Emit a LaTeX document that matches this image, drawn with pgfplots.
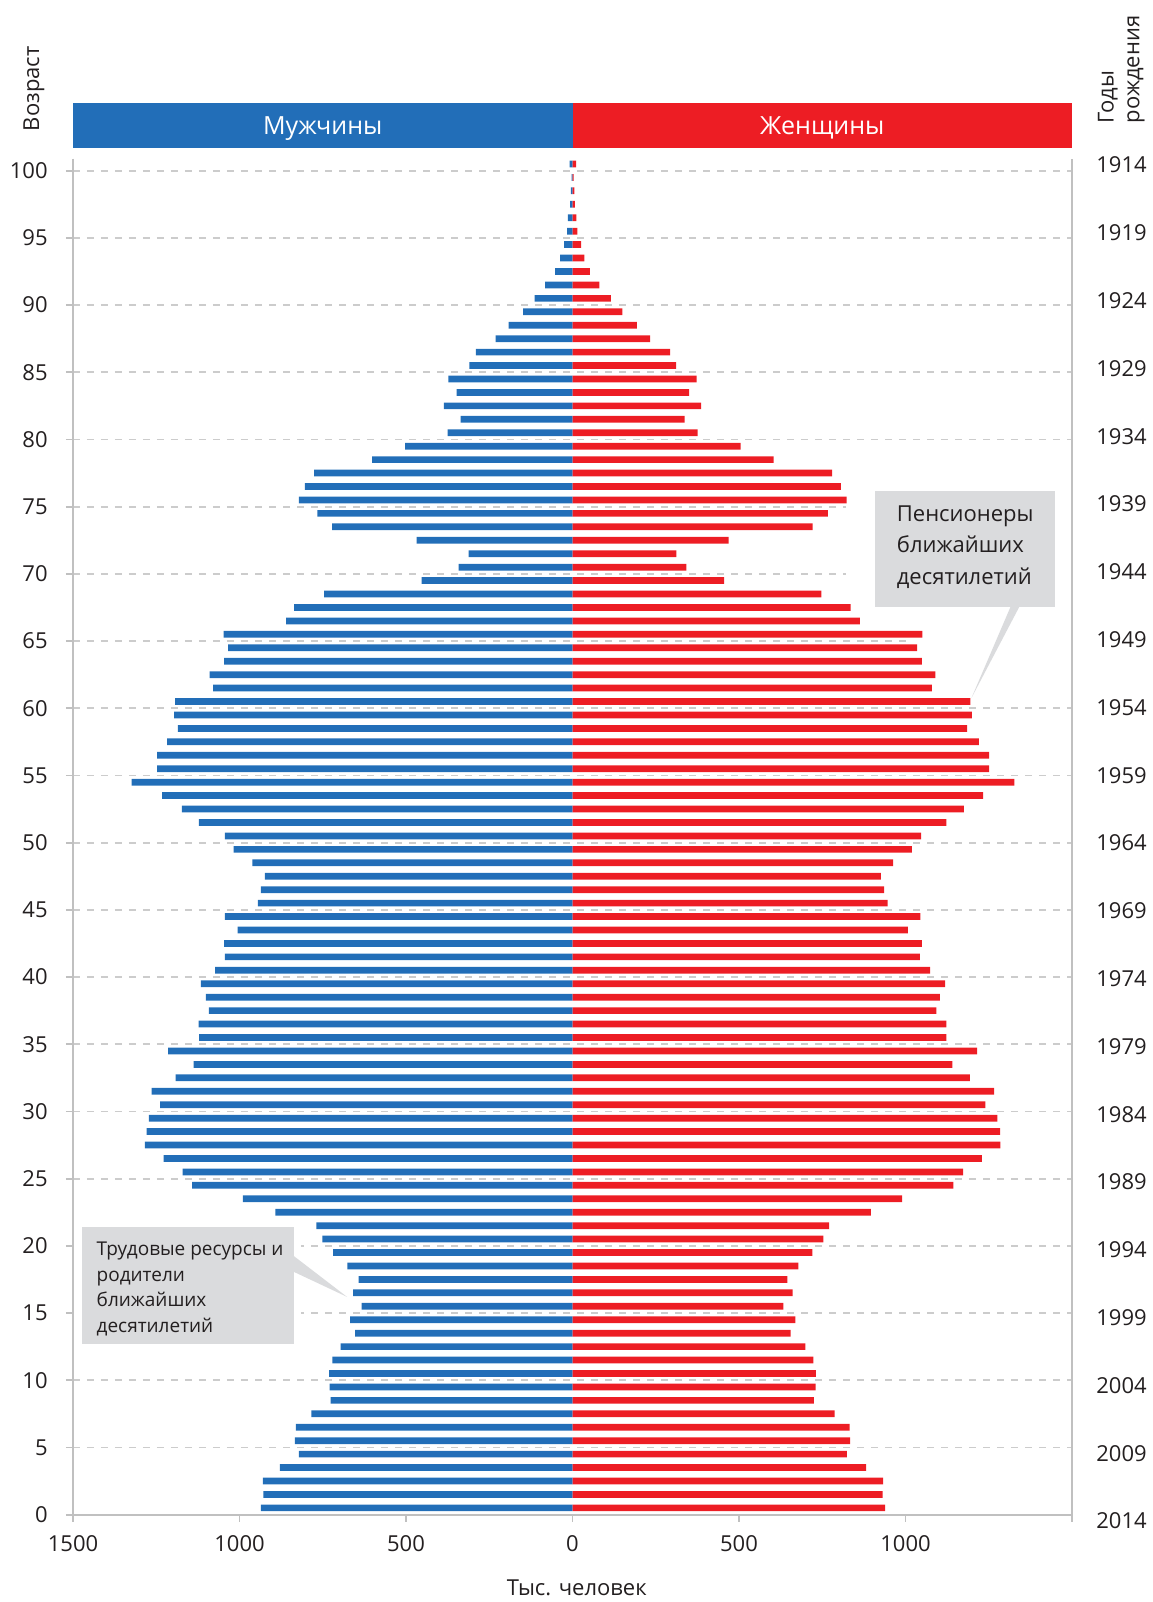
\documentclass[border=0pt]{standalone}
\usepackage{fontspec}
\setmainfont{Open Sans}
\usepackage{pgfplots}
\usepackage{pgfplotstable}
\pgfplotsset{compat=1.18}

\definecolor{mblue}{RGB}{34,110,184}
\definecolor{fred}{RGB}{237,29,36}
\definecolor{axgray}{RGB}{192,192,192}
\definecolor{gridgray}{RGB}{204,204,204}
\definecolor{boxgray}{RGB}{218,219,221}
\definecolor{txt}{RGB}{35,31,32}

% age, men, women (thousands)
\pgfplotstableread{
age m f
0 936 939
1 928 931
2 930 933
3 879 882
4 822 824
5 834 834
6 831 832
7 784 787
8 726 725
9 729 730
10 731 731
11 721 723
12 696 699
13 653 655
14 668 669
15 633 633
16 659 661
17 642 645
18 676 678
19 719 720
20 751 753
21 769 771
22 892 896
23 990 990
24 1142 1144
25 1171 1173
26 1228 1229
27 1284 1285
28 1279 1284
29 1272 1276
30 1238 1240
31 1264 1266
32 1192 1193
33 1138 1141
34 1214 1215
35 1121 1123
36 1123 1123
37 1092 1093
38 1101 1103
39 1116 1119
40 1073 1074
41 1044 1043
42 1046 1049
43 1006 1007
44 1044 1045
45 945 946
46 936 936
47 924 926
48 961 963
49 1018 1019
50 1044 1047
51 1122 1123
52 1173 1175
53 1232 1233
54 1324 1327
55 1247 1251
56 1247 1251
57 1217 1220
58 1185 1185
59 1196 1199
60 1193 1195
61 1079 1079
62 1090 1090
63 1046 1049
64 1034 1035
65 1048 1051
66 860 863
67 836 835
68 746 747
69 453 455
70 342 342
71 312 312
72 468 469
73 722 721
74 766 767
75 822 823
76 804 806
77 776 780
78 602 604
79 503 505
80 375 376
81 336 337
82 386 386
83 348 350
84 373 373
85 310 311
86 290 293
87 231 233
88 192 193
89 148 150
90 114 115
91 82 81
92 52 52
93 37 36
94 25 26
95 16 15
96 14 12
97 7 7
98 5 6
99 3 3
100 9 11
}\pyramid

\begin{document}
\begin{tikzpicture}
\path[use as bounding box] (-36.5pt,-43.7pt) rectangle (539.5pt,757.3pt);
\begin{axis}[
  at={(0pt,0pt)}, anchor=south west,
  scale only axis, width=499.5pt, height=678pt,
  xmin=-1500, xmax=1500, ymin=0, ymax=100.9,
  clip=false,
  axis line style={draw=none},
  xtick={-1500,-1000,-500,0,500,1000,1500},
  xticklabels={1500,1000,500,0,500,1000,{}},
  ytick={0,5,...,100},
  xtick pos=left, ytick pos=left,
  tick align=outside,
  major tick length=3.5pt,
  tick style={draw=axgray, line width=0.9pt},
  ymajorgrids,
  major grid style={draw=gridgray, line width=0.9pt, dash pattern=on 3.6pt off 3.4pt},
  /pgf/number format/assume math mode=true,
  tick label style={font=\fontsize{11}{13}\selectfont, text=txt},
  yticklabel style={anchor=east, inner sep=0pt, xshift=-9pt},
  xticklabel style={anchor=north, inner sep=0pt, yshift=-6.7pt},
  xbar, bar width=0.5,
]
% gaps in the grid around the call-outs
\fill[white] (axis cs:820,74.8) rectangle (axis cs:1510,75.2);
\fill[white] (axis cs:820,69.8) rectangle (axis cs:1510,70.2);
\fill[white] (axis cs:1018,64.8) rectangle (axis cs:1510,65.2);
\fill[white] (axis cs:-1500,19.8) rectangle (axis cs:-815,20.2);
\fill[white] (axis cs:-1500,14.8) rectangle (axis cs:-815,15.2);

\addplot[fill=mblue, draw=none, bar shift=0pt] table[x expr=-\thisrow{m}, y expr=\thisrow{age}+0.5] {\pyramid};
\addplot[fill=fred, draw=none, bar shift=0pt] table[x=f, y expr=\thisrow{age}+0.5] {\pyramid};

\draw[axgray, line width=0.9pt] (axis cs:-1500,100.9) -- (axis cs:-1500,0) -- (axis cs:1500,0) -- (axis cs:1500,100.9);

% header
\fill[mblue] (axis cs:-1500,101.67) rectangle (axis cs:0,105.02);
\fill[fred] (axis cs:0,101.67) rectangle (axis cs:1500,105.02);
\node[white, font=\fontsize{12.5}{15}\selectfont] at (axis cs:-750,103.15) {Мужчины};
\node[white, font=\fontsize{12.5}{15}\selectfont] at (axis cs:750,103.15) {Женщины};

\node[rotate=90, text=txt, font=\fontsize{11}{13}\selectfont] at (axis cs:-1617,106.1) {Возраст};
\node[rotate=90, anchor=west, align=left, inner sep=0pt, text=txt, font=\fontsize{11}{12.8}\selectfont] at (axis cs:1648,103.5) {Годы\\рождения};
\node[text=txt, font=\fontsize{11}{13}\selectfont] at (axis cs:13,-5.45) {Тыс. человек};

% call-outs
\fill[boxgray] (axis cs:909,67.5) rectangle (axis cs:1450,76.2);
\fill[boxgray] (axis cs:1318,67.7) -- (axis cs:1345,67.7) -- (axis cs:1198,60.76) -- cycle;
\node[anchor=west, align=left, inner sep=0pt, text=txt, font=\fontsize{11}{15.8}\selectfont] at (axis cs:973,72.0) {Пенсионеры\\ближайших\\десятилетий};

\fill[boxgray] (axis cs:-1472,12.7) rectangle (axis cs:-836,21.4);
\fill[boxgray] (axis cs:-840,19.3) -- (axis cs:-840,18.1) -- (axis cs:-677,16.2) -- cycle;
\node[anchor=west, align=left, inner sep=0pt, text=txt, font=\fontsize{9.5}{12.8}\selectfont] at (axis cs:-1430,16.8) {Трудовые ресурсы и\\родители\\ближайших\\десятилетий};
\end{axis}

% birth years on the right (slightly wider spread than the age ticks)
\begin{axis}[
  at={(0pt,-10.03pt)}, anchor=south west,
  scale only axis, width=499.5pt, height=691.56pt,
  xmin=-1500, xmax=1500, ymin=-1, ymax=101,
  hide x axis, axis y line*=right, y axis line style={draw=none},
  ytick={0,5,...,100},
  yticklabels={2014,2009,2004,1999,1994,1989,1984,1979,1974,1969,1964,1959,1954,1949,1944,1939,1934,1929,1924,1919,1914},
  major tick length=0pt,
  yticklabel style={anchor=west, inner sep=0pt, xshift=12pt, text=txt, font=\fontsize{11}{13}\selectfont},
]
\addplot[draw=none] coordinates {(0,50)};
\end{axis}
\end{tikzpicture}
\end{document}
